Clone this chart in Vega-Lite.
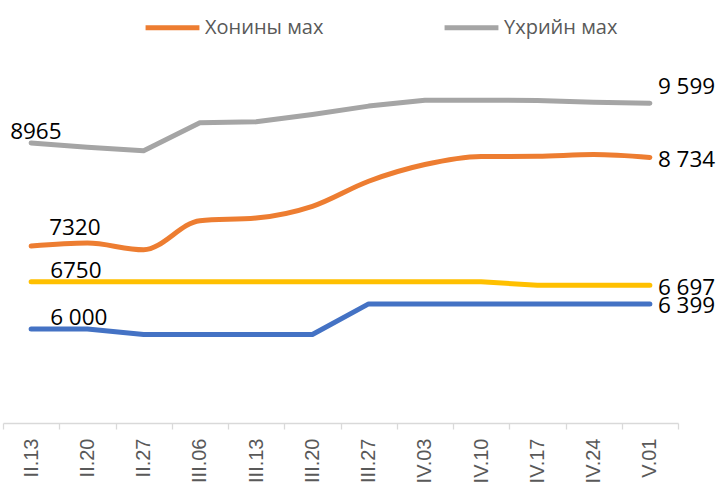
{
  "$schema": "https://vega.github.io/schema/vega-lite/v6.json",
  "width": 675,
  "height": 345,
  "autosize": {"type": "none"},
  "padding": {"left": 3, "top": 78, "right": 40, "bottom": 64},
  "config": {"view": {"stroke": null}, "font": "Open Sans"},
  "data": {
    "values": [
      {"date": "II.13", "series": "Хонины мах", "value": 7320, "label": "7320"},
      {"date": "II.20", "series": "Хонины мах", "value": 7368},
      {"date": "II.27", "series": "Хонины мах", "value": 7262},
      {"date": "III.06", "series": "Хонины мах", "value": 7726},
      {"date": "III.13", "series": "Хонины мах", "value": 7767},
      {"date": "III.20", "series": "Хонины мах", "value": 7954},
      {"date": "III.27", "series": "Хонины мах", "value": 8354},
      {"date": "IV.03", "series": "Хонины мах", "value": 8620},
      {"date": "IV.10", "series": "Хонины мах", "value": 8748},
      {"date": "IV.17", "series": "Хонины мах", "value": 8753},
      {"date": "IV.24", "series": "Хонины мах", "value": 8780},
      {"date": "V.01", "series": "Хонины мах", "value": 8734, "label": "8 734"},
      {"date": "II.13", "series": "Үхрийн мах", "value": 8965, "label": "8965"},
      {"date": "II.20", "series": "Үхрийн мах", "value": 8897},
      {"date": "II.27", "series": "Үхрийн мах", "value": 8841},
      {"date": "III.06", "series": "Үхрийн мах", "value": 9285},
      {"date": "III.13", "series": "Үхрийн мах", "value": 9301},
      {"date": "III.20", "series": "Үхрийн мах", "value": 9419},
      {"date": "III.27", "series": "Үхрийн мах", "value": 9552},
      {"date": "IV.03", "series": "Үхрийн мах", "value": 9647},
      {"date": "IV.10", "series": "Үхрийн мах", "value": 9647},
      {"date": "IV.17", "series": "Үхрийн мах", "value": 9643},
      {"date": "IV.24", "series": "Үхрийн мах", "value": 9615},
      {"date": "V.01", "series": "Үхрийн мах", "value": 9599, "label": "9 599"},
      {"date": "II.13", "series": "Адууны мах", "value": 6750, "label": "6750"},
      {"date": "II.20", "series": "Адууны мах", "value": 6750},
      {"date": "II.27", "series": "Адууны мах", "value": 6750},
      {"date": "III.06", "series": "Адууны мах", "value": 6750},
      {"date": "III.13", "series": "Адууны мах", "value": 6750},
      {"date": "III.20", "series": "Адууны мах", "value": 6750},
      {"date": "III.27", "series": "Адууны мах", "value": 6750},
      {"date": "IV.03", "series": "Адууны мах", "value": 6750},
      {"date": "IV.10", "series": "Адууны мах", "value": 6750},
      {"date": "IV.17", "series": "Адууны мах", "value": 6697},
      {"date": "IV.24", "series": "Адууны мах", "value": 6697},
      {"date": "V.01", "series": "Адууны мах", "value": 6697, "label": "6 697"},
      {"date": "II.13", "series": "Ямааны мах", "value": 6000, "label": "6 000"},
      {"date": "II.20", "series": "Ямааны мах", "value": 6000},
      {"date": "II.27", "series": "Ямааны мах", "value": 5910},
      {"date": "III.06", "series": "Ямааны мах", "value": 5910},
      {"date": "III.13", "series": "Ямааны мах", "value": 5910},
      {"date": "III.20", "series": "Ямааны мах", "value": 5910},
      {"date": "III.27", "series": "Ямааны мах", "value": 6399},
      {"date": "IV.03", "series": "Ямааны мах", "value": 6399},
      {"date": "IV.10", "series": "Ямааны мах", "value": 6399},
      {"date": "IV.17", "series": "Ямааны мах", "value": 6399},
      {"date": "IV.24", "series": "Ямааны мах", "value": 6399},
      {"date": "V.01", "series": "Ямааны мах", "value": 6399, "label": "6 399"}
    ]
  },
  "encoding": {
    "x": {
      "field": "date",
      "type": "nominal",
      "sort": ["II.13", "II.20", "II.27", "III.06", "III.13", "III.20", "III.27", "IV.03", "IV.10", "IV.17", "IV.24", "V.01"],
      "scale": {"type": "band", "paddingInner": 0, "paddingOuter": 0},
      "axis": {
        "title": null,
        "labelAngle": -90,
        "labelAlign": "right",
        "labelBaseline": "middle",
        "labelFont": "Liberation Sans",
        "labelFontSize": 20,
        "labelColor": "#595959",
        "labelPadding": 9,
        "tickBand": "extent",
        "tickSize": 6,
        "tickColor": "#D9D9D9",
        "domainColor": "#D9D9D9",
        "domainWidth": 1.3,
        "tickWidth": 1.3,
        "grid": false
      }
    },
    "y": {
      "field": "value",
      "type": "quantitative",
      "scale": {"domain": [4500, 10000], "nice": false, "zero": false},
      "axis": null
    }
  },
  "layer": [
    {
      "transform": [{"filter": "datum.series !== 'Хонины мах'"}],
      "mark": {"type": "line", "strokeWidth": 5, "strokeCap": "round", "strokeJoin": "round"},
      "encoding": {
        "color": {
          "field": "series",
          "type": "nominal",
          "scale": {
            "domain": ["Хонины мах", "Үхрийн мах", "Адууны мах", "Ямааны мах"],
            "range": ["#ED7D31", "#A5A5A5", "#FFC000", "#4472C4"]
          },
          "legend": {
            "values": ["Хонины мах", "Үхрийн мах"],
            "orient": "none",
            "legendX": 140,
            "legendY": -80,
            "direction": "horizontal",
            "title": null,
            "symbolType": "stroke",
            "symbolSize": 2900,
            "symbolStrokeWidth": 5,
            "labelFont": "Open Sans",
            "labelFontSize": 20,
            "labelColor": "#595959",
            "labelOffset": 3,
            "columnPadding": 110,
            "padding": 0
          }
        }
      }
    },
    {
      "transform": [{"filter": "datum.series === 'Хонины мах'"}],
      "mark": {"type": "line", "interpolate": "monotone", "strokeWidth": 5, "strokeCap": "round", "strokeJoin": "round"},
      "encoding": {"color": {"field": "series", "type": "nominal"}}
    },
    {
      "transform": [{"filter": "datum.label && datum.date === 'II.13' && datum.series === 'Үхрийн мах'"}],
      "mark": {"type": "text", "align": "left", "baseline": "alphabetic", "dx": -21, "dy": -4, "fontSize": 22.5, "font": "Open Sans", "color": "#000000"},
      "encoding": {"text": {"field": "label"}}
    },
    {
      "transform": [{"filter": "datum.label && datum.date === 'II.13' && datum.series === 'Хонины мах'"}],
      "mark": {"type": "text", "align": "left", "baseline": "alphabetic", "dx": 18, "dy": -11, "fontSize": 22.5, "font": "Open Sans", "color": "#000000"},
      "encoding": {"text": {"field": "label"}}
    },
    {
      "transform": [{"filter": "datum.label && datum.date === 'II.13' && (datum.series === 'Адууны мах' || datum.series === 'Ямааны мах')"}],
      "mark": {"type": "text", "align": "left", "baseline": "alphabetic", "dx": 19, "dy": -3.5, "fontSize": 22.5, "font": "Open Sans", "color": "#000000"},
      "encoding": {"text": {"field": "label"}}
    },
    {
      "transform": [{"filter": "datum.label && datum.date === 'V.01' && datum.series === 'Үхрийн мах'"}],
      "mark": {"type": "text", "align": "left", "baseline": "alphabetic", "dx": 8, "dy": -9.5, "fontSize": 22.5, "font": "Open Sans", "color": "#000000"},
      "encoding": {"text": {"field": "label"}}
    },
    {
      "transform": [{"filter": "datum.label && datum.date === 'V.01' && datum.series !== 'Үхрийн мах'"}],
      "mark": {"type": "text", "align": "left", "baseline": "alphabetic", "dx": 8, "dy": 9.5, "fontSize": 22.5, "font": "Open Sans", "color": "#000000"},
      "encoding": {"text": {"field": "label"}}
    }
  ]
}
